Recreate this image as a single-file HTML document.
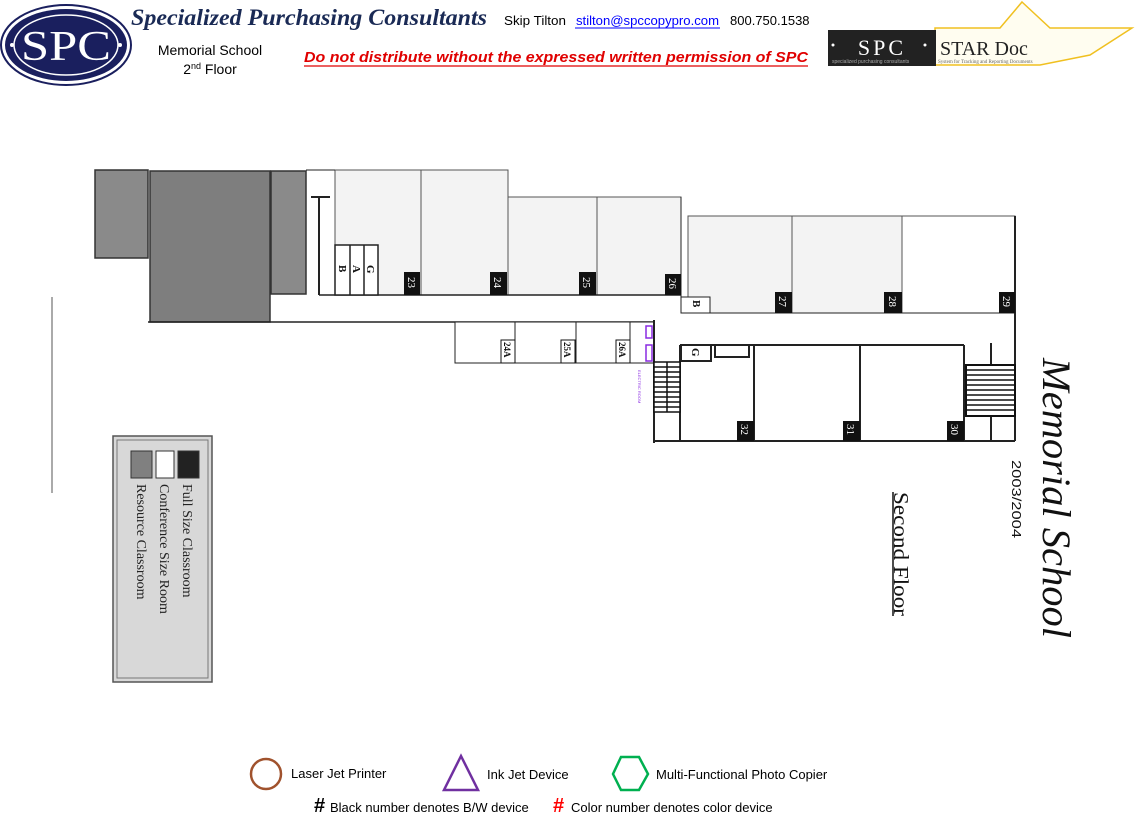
<!DOCTYPE html>
<html><head><meta charset="utf-8"><style>
html,body{margin:0;padding:0;background:#fff;width:1135px;height:834px;overflow:hidden}
svg{display:block}
</style></head><body>
<svg width="1135" height="834" viewBox="0 0 1135 834" xmlns="http://www.w3.org/2000/svg" font-family="Liberation Sans, sans-serif">
<!-- header -->
<ellipse cx="66" cy="45" rx="65" ry="40" fill="#fff" stroke="#1a1f5e" stroke-width="2"/>
<ellipse cx="66" cy="45" rx="61" ry="36" fill="#1a1f5e"/>
<ellipse cx="66" cy="45" rx="52" ry="30" fill="none" stroke="#fff" stroke-width="1.5"/>
<text x="66" y="60" fill="#fff" font-family="Liberation Serif, serif" font-size="42" text-anchor="middle" textLength="90" lengthAdjust="spacingAndGlyphs">SPC</text>
<circle cx="12" cy="45" r="2" fill="#fff"/><circle cx="120" cy="45" r="2" fill="#fff"/>
<text x="131" y="25" fill="#1a2a55" font-family="Liberation Serif, serif" font-style="italic" font-weight="bold" font-size="23" textLength="356" lengthAdjust="spacingAndGlyphs">Specialized Purchasing Consultants</text>
<text x="504" y="25" font-size="13" fill="#000" textLength="62" lengthAdjust="spacingAndGlyphs">Skip Tilton</text>
<text x="576" y="25" font-size="13" fill="#00f" textLength="143" lengthAdjust="spacingAndGlyphs">stilton@spccopypro.com</text>
<line x1="575" y1="28" x2="720" y2="28" stroke="#00f"/>
<text x="730" y="25" font-size="13" fill="#000">800.750.1538</text>
<text x="210" y="55" font-size="14" text-anchor="middle">Memorial School</text>
<text x="210" y="74" font-size="14" text-anchor="middle">2<tspan font-size="9" dy="-5">nd</tspan><tspan dy="5"> Floor</tspan></text>
<text x="304" y="62" font-size="15" font-weight="bold" font-style="italic" fill="#e00000" textLength="504" lengthAdjust="spacingAndGlyphs">Do not distribute without the expressed written permission of SPC</text>
<line x1="304" y1="66" x2="808" y2="66" stroke="#e00000" stroke-width="1.2"/>
<!-- star doc -->
<polygon points="1022,2 1050,28 1132,28 1090,55 1040,65 935,65 935,28 1000,28" fill="#fffdf0" stroke="#f0c020" stroke-width="1.5"/>
<rect x="828" y="30" width="108" height="36" fill="#222"/>
<text x="882" y="55" fill="#fff" font-family="Liberation Serif, serif" font-size="22" text-anchor="middle" letter-spacing="3">SPC</text>
<circle cx="833" cy="45" r="1.5" fill="#fff"/><circle cx="925" cy="45" r="1.5" fill="#fff"/>
<text x="832" y="63" fill="#aaa" font-size="5">specialized purchasing consultants</text>
<text x="940" y="55" font-family="Liberation Serif, serif" font-size="20" fill="#222">STAR Doc</text>
<text x="938" y="63" font-family="Liberation Serif, serif" font-size="5" fill="#666">System for Tracking and Reporting Documents</text>

<!-- floor plan -->
<g stroke="#333" stroke-width="1.5">
<rect x="95" y="170" width="53" height="88" fill="#8a8a8a"/>
<rect x="150" y="171" width="120" height="151" fill="#7e7e7e"/>
<rect x="271" y="171" width="35" height="123" fill="#8a8a8a"/>
</g>
<g fill="none" stroke="#222" stroke-width="1.5">
<rect x="335" y="170" width="86" height="125" fill="#f3f3f3" stroke="#555" stroke-width="1"/>
<rect x="421" y="170" width="87" height="125" fill="#f3f3f3" stroke="#555" stroke-width="1"/>
<rect x="508" y="197" width="89" height="98" fill="#f3f3f3" stroke="#555" stroke-width="1"/>
<rect x="597" y="197" width="84" height="98" fill="#f3f3f3" stroke="#555" stroke-width="1"/>
<rect x="688" y="216" width="104" height="97" fill="#f3f3f3" stroke="#555" stroke-width="1"/>
<rect x="792" y="216" width="110" height="97" fill="#f3f3f3" stroke="#555" stroke-width="1"/>
<rect x="902" y="216" width="113" height="97" fill="#fff" stroke="#555" stroke-width="1"/>
<line x1="306" y1="170" x2="335" y2="170" stroke-width="1"/>
<line x1="681" y1="197" x2="681" y2="313" stroke-width="1"/>
<line x1="681" y1="313" x2="1015" y2="313" stroke-width="1"/>
<line x1="319" y1="295" x2="681" y2="295"/>
<line x1="319" y1="197" x2="319" y2="295" stroke-width="2"/>
<line x1="311" y1="197" x2="330" y2="197" stroke-width="2"/>
<rect x="335" y="245" width="43" height="50" fill="#fff"/>
<line x1="350" y1="245" x2="350" y2="295"/><line x1="364" y1="245" x2="364" y2="295"/>
<rect x="681" y="297" width="29" height="16" fill="#fff" stroke-width="1"/>
<line x1="1015" y1="216" x2="1015" y2="441" stroke-width="2"/>
<line x1="148" y1="322" x2="654" y2="322"/>
<rect x="455" y="322" width="199" height="41" fill="#fff" stroke-width="1"/>
<line x1="515" y1="322" x2="515" y2="363" stroke-width="1"/>
<line x1="576" y1="322" x2="576" y2="363" stroke-width="1"/>
<line x1="630" y1="322" x2="630" y2="363" stroke-width="1"/>
<line x1="654" y1="320" x2="654" y2="443" stroke-width="2"/>
<line x1="654" y1="441" x2="1015" y2="441" stroke-width="2"/>
<line x1="680" y1="345" x2="964" y2="345" stroke-width="2"/>
<line x1="680" y1="345" x2="680" y2="441" stroke-width="2"/>
<line x1="754" y1="345" x2="754" y2="441" stroke-width="2"/>
<line x1="860" y1="345" x2="860" y2="441" stroke-width="2"/>
<line x1="964" y1="345" x2="964" y2="441" stroke-width="2"/>
<line x1="991" y1="343" x2="991" y2="441" stroke-width="2"/>
<rect x="681" y="345" width="30" height="16" fill="#fff" stroke-width="2"/>
<rect x="715" y="345" width="34" height="12" fill="#fff" stroke-width="2"/>
<line x1="52" y1="297" x2="52" y2="493" stroke="#555" stroke-width="1"/>
</g>
<!-- stairs -->
<g stroke="#111" stroke-width="1.5">
<rect x="654" y="362" width="26" height="50" fill="#fff"/>
<line x1="667" y1="362" x2="667" y2="412"/>
<path d="M654 367H680M654 372H680M654 377H680M654 382H680M654 387H680M654 392H680M654 397H680M654 402H680M654 407H680"/>
<rect x="966" y="365" width="49" height="51" fill="#fff" stroke-width="2"/>
<path d="M966 370H1015M966 375H1015M966 380H1015M966 385H1015M966 390H1015M966 395H1015M966 400H1015M966 405H1015M966 410H1015"/>
</g>
<!-- purple -->
<rect x="646" y="326" width="6" height="12" fill="none" stroke="#8a2be2" stroke-width="1.5"/>
<rect x="646" y="345" width="6" height="16" fill="none" stroke="#8a2be2" stroke-width="1.5"/>
<text transform="translate(638,370) rotate(90)" font-size="4" fill="#8a2be2">ELECTRIC ROOM</text>
<!-- closet letters -->
<g font-family="Liberation Serif, serif" font-weight="bold" font-size="11" fill="#111">
<text transform="translate(339,265) rotate(90)">B</text>
<text transform="translate(353,265) rotate(90)">A</text>
<text transform="translate(367,265) rotate(90)">G</text>
<text transform="translate(693,300) rotate(90)">B</text>
<text transform="translate(692,348) rotate(90)">G</text>
</g>
<!-- room numbers -->
<g fill="#111">
<rect x="404" y="272" width="16" height="23"/><rect x="490" y="272" width="17" height="23"/>
<rect x="579" y="272" width="17" height="23"/><rect x="665" y="274" width="16" height="21"/>
<rect x="775" y="292" width="17" height="21"/><rect x="884" y="292" width="18" height="21"/>
<rect x="999" y="292" width="16" height="21"/>
<rect x="737" y="421" width="17" height="20"/><rect x="843" y="421" width="17" height="20"/>
<rect x="947" y="421" width="17" height="20"/>
<rect x="501" y="340" width="14" height="23" fill="#fff" stroke="#111"/>
<rect x="561" y="340" width="14" height="23" fill="#fff" stroke="#111"/>
<rect x="616" y="340" width="14" height="23" fill="#fff" stroke="#111"/>
</g>
<g font-family="Liberation Serif, serif" font-size="11" fill="#fff">
<text transform="translate(408,277) rotate(90)">23</text>
<text transform="translate(494,277) rotate(90)">24</text>
<text transform="translate(583,277) rotate(90)">25</text>
<text transform="translate(669,278) rotate(90)">26</text>
<text transform="translate(779,296) rotate(90)">27</text>
<text transform="translate(889,296) rotate(90)">28</text>
<text transform="translate(1003,296) rotate(90)">29</text>
<text transform="translate(741,424) rotate(90)">32</text>
<text transform="translate(847,424) rotate(90)">31</text>
<text transform="translate(951,424) rotate(90)">30</text>
</g>
<g font-family="Liberation Serif, serif" font-weight="bold" font-size="9" fill="#111">
<text transform="translate(504,342) rotate(90)">24A</text>
<text transform="translate(564,342) rotate(90)">25A</text>
<text transform="translate(619,342) rotate(90)">26A</text>
</g>
<!-- legend box -->
<rect x="113" y="436" width="99" height="246" fill="#d8d8d8" stroke="#555" stroke-width="1.5"/>
<rect x="117" y="440" width="91" height="238" fill="none" stroke="#777" stroke-width="1"/>
<rect x="131" y="451" width="21" height="27" fill="#808080" stroke="#333"/>
<rect x="156" y="451" width="18" height="27" fill="#fff" stroke="#333"/>
<rect x="178" y="451" width="21" height="27" fill="#222" stroke="#333"/>
<g font-family="Liberation Serif, serif" font-size="14" fill="#222">
<text transform="translate(183,484) rotate(90)">Full Size Classroom</text>
<text transform="translate(160,484) rotate(90)">Conference Size Room</text>
<text transform="translate(137,484) rotate(90)">Resource Classroom</text>
</g>
<!-- titles -->
<text transform="translate(1043,358) rotate(90)" font-family="Liberation Serif, serif" font-style="italic" font-size="40" fill="#111" textLength="280" lengthAdjust="spacingAndGlyphs">Memorial School</text>
<text transform="translate(1012,460) rotate(90)" font-size="13" fill="#111" textLength="78" lengthAdjust="spacingAndGlyphs">2003/2004</text>
<text transform="translate(894,492) rotate(90)" font-family="Liberation Serif, serif" font-size="21" fill="#111" textLength="124" lengthAdjust="spacingAndGlyphs">Second Floor</text>
<line x1="893" y1="492" x2="893" y2="616" stroke="#111" stroke-width="1.5"/>
<!-- device legend -->
<circle cx="266" cy="774" r="15" fill="none" stroke="#a0522d" stroke-width="2.5"/>
<text x="291" y="778" font-size="13">Laser Jet Printer</text>
<polygon points="461,756 478,790 444,790" fill="none" stroke="#7030a0" stroke-width="2.5"/>
<text x="487" y="779" font-size="13">Ink Jet Device</text>
<polygon points="621,757 639,757 648,774 639,790 621,790 613,774" fill="none" stroke="#00b050" stroke-width="2.5"/>
<text x="656" y="779" font-size="13">Multi-Functional Photo Copier</text>
<text x="314" y="812" font-size="20" font-weight="bold">#</text>
<text x="330" y="812" font-size="13">Black number denotes B/W device</text>
<text x="553" y="812" font-size="20" font-weight="bold" fill="#f00">#</text>
<text x="571" y="812" font-size="13">Color number denotes color device</text>
</svg>
</body></html>
